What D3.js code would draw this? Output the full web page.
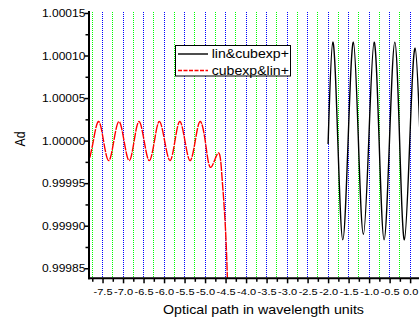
<!DOCTYPE html>
<html><head><meta charset="utf-8">
<script src="https://cdn.jsdelivr.net/npm/d3@7"></script>
<style>html,body{margin:0;padding:0;background:#fff;} svg{display:block;font-family:"Liberation Sans",Arial,sans-serif;}</style>
</head><body>
<svg id="c" width="419" height="322"></svg>
<script>
// ---- data ----
const xTickValues = [-7.5,-7.0,-6.5,-6.0,-5.5,-5.0,-4.5,-4.0,-3.5,-3.0,-2.5,-2.0,-1.5,-1.0,-0.5,0.0];
const xMinorValues = [-7.75,-7.25,-6.75,-6.25,-5.75,-5.25,-4.75,-4.25,-3.75,-3.25,-2.75,-2.25,-1.75,-1.25,-0.75,-0.25,0.25,0.5];
const yTickValues = [0.99985,0.99990,0.99995,1.00000,1.00005,1.00010,1.00015];
const yMinorValues = [0.999875,0.999925,0.999975,1.000025,1.000075,1.000125];
const blueLines = [-7.5,-7.0,-6.5,-6.0,-5.5,-5.0,-4.5,-4.0,-3.5,-3.0,-2.5,-2.0,-1.5,-1.0,-0.5,0.0,0.5];
const greenLines = [-7.75,-7.25,-6.75,-6.25,-5.75,-5.25,-4.75,-4.25,-3.75,-3.25,-2.75,-2.25,-1.75,-1.25,-0.75,-0.25,0.25];
const seriesNames = ["lin&cubexp+","cubexp&lin+"];
const seriesColors = ["#000000","#ff0000"];
const blackX = [-2.00,-1.885,-1.763,-1.641,-1.512,-1.383,-1.261,-1.139,-1.008,-0.878,-0.756,-0.634,-0.503,-0.373,-0.256,-0.139,-0.008,0.122,0.245];
const blackY = [0.999996,1.0001157,1.0000,0.9998835,1.0000,1.0001157,1.0000,0.99989,1.0000,1.0001157,1.0000,0.9998835,1.0000,1.0001157,1.0000,0.9998835,1.0000,1.0001086,1.0000];
const redX = [-7.81,-7.725,-7.60,-7.475,-7.35,-7.225,-7.10,-6.975,-6.85,-6.73,-6.61,-6.485,-6.36,-6.235,-6.115,-5.985,-5.855,-5.735,-5.615,-5.49,-5.365,-5.24,-5.115,-4.985,-4.86,-4.676,-4.593,-4.544,-4.488,-4.456,-4.44];
const redY = [0.99998,0.9999995,1.0000224,0.9999995,0.9999765,0.9999995,1.0000224,0.9999995,0.9999765,0.9999995,1.0000224,0.9999995,0.9999765,0.9999995,1.0000224,0.9999995,0.9999765,0.9999995,1.0000224,0.9999995,0.9999765,0.9999995,1.0000224,0.999996,0.9999686,0.9999855,0.999961,0.9999295,0.999882,0.9998385,0.99982];

// ---- layout ----
const L = 89, R = 438, T = 11, B = 278.3;
const SX = 1.17;
const svg = d3.select("#c");
const x = d3.scaleLinear().domain([-7.83, 0.68]).range([L, R]);
const y = d3.scaleLinear().domain([0.9998382, 1.0001523]).range([B, T]);
const px = v => Math.round(v - 0.5);

const defs = svg.append("defs");
defs.append("clipPath").attr("id","clip")
  .append("rect").attr("x",L).attr("y",T).attr("width",R-L).attr("height",B-T);
[["pb","#0000ff"],["pg","#00ff00"]].forEach(([id,c])=>{
  const p = defs.append("pattern").attr("id",id).attr("patternUnits","userSpaceOnUse")
    .attr("width",1).attr("height",2);
  p.append("rect").attr("x",0).attr("y",0).attr("width",1).attr("height",1).attr("fill",c);
});

// grid lines (dotted)
const grid = svg.append("g").attr("class","grid").attr("shape-rendering","crispEdges");
grid.selectAll("rect.gl").data(greenLines).join("rect").attr("class","gl")
  .attr("x",d=>px(x(d))).attr("width",1).attr("y",T).attr("height",Math.round(B-T))
  .attr("fill","url(#pg)");
grid.selectAll("rect.bl").data(blueLines).join("rect").attr("class","bl")
  .attr("x",d=>px(x(d))).attr("width",1).attr("y",T).attr("height",Math.round(B-T))
  .attr("fill","url(#pb)");

// curves
const blackData = blackX.map((v,i)=>[v,blackY[i]]);
const redData = redX.map((v,i)=>[v,redY[i]]);
const lineGen = d3.line().x(d=>x(d[0])).y(d=>y(d[1])).curve(d3.curveNatural);
const plot = svg.append("g").attr("clip-path","url(#clip)");
plot.append("path").datum(blackData).attr("d",lineGen).attr("fill","none")
  .attr("stroke",seriesColors[0]).attr("stroke-width",1.4);
plot.append("path").datum(redData).attr("d",lineGen).attr("fill","none")
  .attr("stroke",seriesColors[1]).attr("stroke-width",1.4).attr("stroke-dasharray","9,1");

// axes
const xAxisG = svg.append("g").attr("transform",`translate(0,${B})`);
xAxisG.append("g").call(d3.axisBottom(x).tickValues(xMinorValues).tickSize(3.5).tickFormat(""))
  .call(g=>g.select(".domain").remove());
const xMaj = xAxisG.append("g").call(d3.axisBottom(x).tickValues(xTickValues).tickSize(5).tickFormat(d3.format(".1f")));
xMaj.select(".domain").remove();
xAxisG.selectAll(".tick line").attr("stroke","#000").attr("stroke-width",1.5);
xMaj.selectAll("text").attr("y",null).attr("dy",null)
  .attr("transform",`translate(0,16.2) scale(${SX},1)`)
  .attr("font-size","9.4px").attr("font-family","Liberation Sans, Arial, sans-serif").attr("fill","#000")
  .text(d=>d3.format(".1f")(d).replace("−","-"));

const yAxisG = svg.append("g").attr("transform",`translate(${L},0)`);
yAxisG.append("g").call(d3.axisLeft(y).tickValues(yMinorValues).tickSize(3.5).tickFormat(""))
  .call(g=>g.select(".domain").remove());
const yMaj = yAxisG.append("g").call(d3.axisLeft(y).tickValues(yTickValues).tickSize(4.5).tickFormat(d3.format(".5f")));
yMaj.select(".domain").remove();
yAxisG.selectAll(".tick line").attr("stroke","#000").attr("stroke-width",1.5);
yMaj.selectAll("text").attr("x",null).attr("dy",null)
  .attr("transform",`translate(-3.6,3.7) scale(${SX},1)`)
  .attr("text-anchor","end")
  .attr("font-size","10.3px").attr("font-family","Liberation Sans, Arial, sans-serif").attr("fill","#000");

// axis lines
svg.append("line").attr("x1",L).attr("x2",L).attr("y1",T).attr("y2",B+1)
  .attr("stroke","#000").attr("stroke-width",2);
svg.append("line").attr("x1",L-1).attr("x2",R).attr("y1",B).attr("y2",B)
  .attr("stroke","#000").attr("stroke-width",2);

// axis titles
svg.append("text").attr("transform",`translate(263.5,314) scale(1.13,1)`)
  .attr("text-anchor","middle").attr("font-size","12.6px").attr("fill","#000")
  .text("Optical path in wavelength units");
svg.append("text").attr("transform",`translate(25,139) scale(1.15,1) rotate(-90)`)
  .attr("text-anchor","middle").attr("font-size","12.2px").attr("fill","#000")
  .text("Ad");

// legend
const lg = svg.append("g");
lg.append("rect").attr("x",175.5).attr("y",45.5).attr("width",115).attr("height",30.5)
  .attr("fill","#fff").attr("stroke","#000").attr("stroke-width",1);
const rows = [{y:54, base:58.3, dash:null},{y:70.5, base:74.5, dash:"4,1.5"}];
rows.forEach((r,i)=>{
  lg.append("line").attr("x1",178).attr("x2",208).attr("y1",r.y).attr("y2",r.y)
    .attr("stroke",seriesColors[i]).attr("stroke-width",1.4)
    .attr("stroke-dasharray",r.dash);
  lg.append("text").attr("transform",`translate(211.7,${r.base}) scale(1.12,1)`)
    .attr("font-size","12.6px").attr("fill","#000").text(seriesNames[i]);
});
</script>
</body></html>
